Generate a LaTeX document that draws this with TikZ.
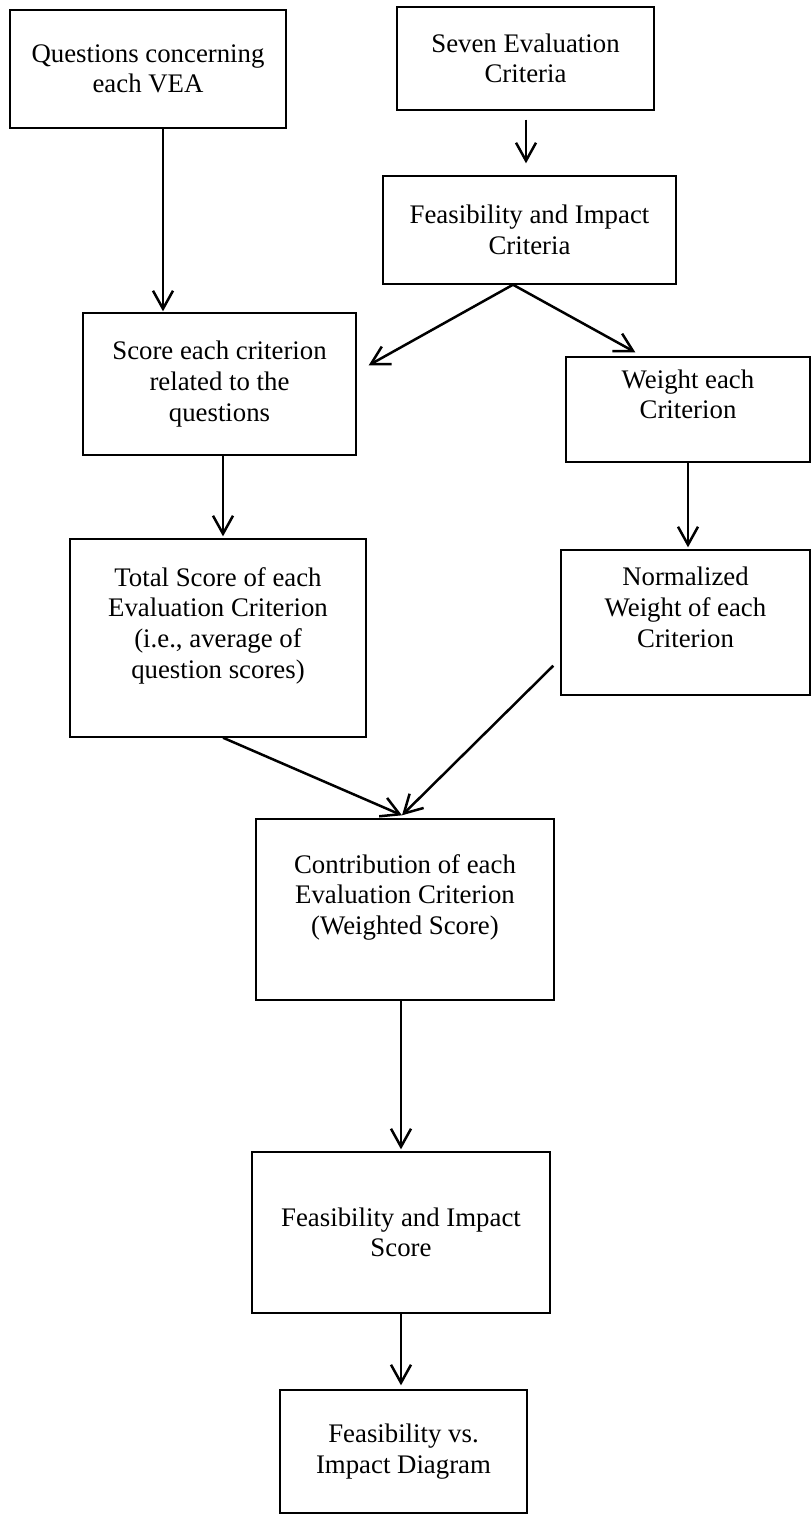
\documentclass[tikz,border=0pt]{standalone}
\usepackage{fontspec}
\setmainfont{Liberation Serif}
\usetikzlibrary{arrows.meta,calc}
\begin{document}
\begin{tikzpicture}[x=0.5pt,y=-0.5pt,
  box/.style={draw, line width=0.7pt, align=center, inner sep=0pt,
    font=\fontsize{13.4}{15.3}\selectfont},
  arr/.style={-{Straight Barb[length=9pt,width=10pt,line width=1.25pt]}, line width=1.25pt}]
\useasboundingbox (0,0) rectangle (812,1515);
\node[box, minimum width=138pt, minimum height=59pt] (Q) at (148,69) {Questions concerning\\each VEA};
\node[box, minimum width=128.5pt, minimum height=51.5pt] (S) at (525.5,58.5) {Seven Evaluation\\Criteria};
\node[box, minimum width=146.5pt, minimum height=54pt] (FC) at (529.5,230) {Feasibility and Impact\\Criteria};
\node[box, minimum width=136.5pt, minimum height=71pt] (Sc) at (219.5,384) {Score each criterion\\related to the\\questions};
\node[box, minimum width=122pt, minimum height=52.5pt] (W) at (688,409.5) {Weight each\\Criterion\\\mbox{}};
\node[box, minimum width=148pt, minimum height=99pt] (T) at (218,638) {Total Score of each\\Evaluation Criterion\\(i.e., average of\\question scores)\\\mbox{}};
\node[box, minimum width=124.5pt, minimum height=72.5pt] (N) at (685.5,622.5) {Normalized\\Weight of each\\Criterion\\\mbox{}};
\node[box, minimum width=149pt, minimum height=90.5pt] (C) at (405,909.5) {Contribution of each\\Evaluation Criterion\\(Weighted Score)\\\mbox{}};
\node[box, minimum width=149pt, minimum height=80.5pt] (FS) at (401,1232.5) {Feasibility and Impact\\Score};
\node[box, minimum width=123.5pt, minimum height=61.5pt] (FV) at (403.5,1451.5) {Feasibility vs.\\Impact Diagram};

\coordinate (xa) at (163,0);
\coordinate (xb) at (526,0);
\coordinate (xc) at (513,0);
\coordinate (xd) at (223,0);

\draw[arr] (Q.south -| xa) -- ($(Sc.north -| xa)+(0,-1)$);
\draw[arr] ($(S.south -| xb)+(0,9)$) -- ($(FC.north -| xb)+(0,-12)$);
\draw[arr] (FC.south -| xc) -- ($(Sc.north east)+(12,53)$);
\draw[arr] (FC.south -| xc) -- ($(W.north west)+(70,-4)$);
\draw[arr] (Sc.south -| xd) -- ($(T.north -| xd)+(0,-2)$);
\draw[arr] (W.south) -- ($(W.south |- N.north)+(0,-2)$);
\draw[arr] (T.south -| xd) -- ($(C.north)+(-3,-3)$);
\draw[arr] ($(N.south west)+(-7,-30)$) -- ($(C.north)+(-3,-3)$);
\draw[arr] (C.south -| FS.north) -- ($(FS.north)+(0,-2)$);
\draw[arr] (FS.south) -- ($(FS.south |- FV.north)+(0,-4)$);
\end{tikzpicture}
\end{document}
